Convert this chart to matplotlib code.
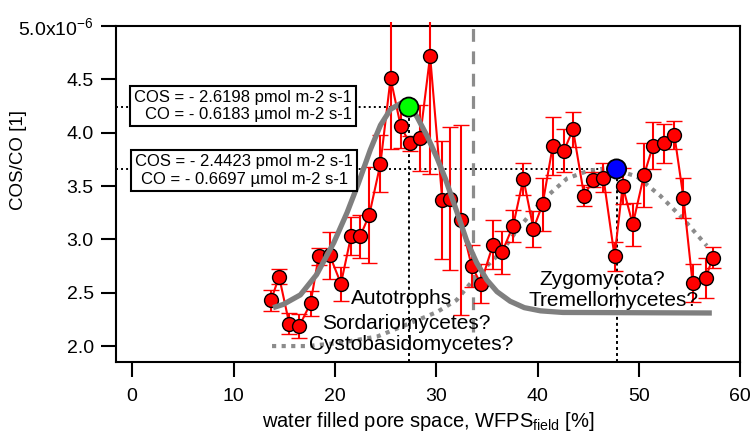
import numpy as np
import matplotlib.pyplot as plt
from matplotlib.ticker import FuncFormatter, MultipleLocator
from matplotlib.transforms import Bbox, TransformedBbox

plt.rcParams['font.family'] = ['Liberation Sans', 'DejaVu Sans']
plt.rcParams['mathtext.fontset'] = 'custom'
plt.rcParams['mathtext.rm'] = 'Liberation Sans'
plt.rcParams['mathtext.it'] = 'Liberation Sans:italic'

# COS/CO ratio (in 1e-6) binned by field WFPS
wfps = [13.7, 14.5, 15.5, 16.5, 17.6, 18.4, 19.5, 20.6, 21.6, 22.5,
        23.4, 24.5, 25.5, 26.5, 27.4, 28.4, 29.4, 30.6, 31.4, 32.4,
        33.5, 34.4, 35.6, 36.5, 37.6, 38.6, 39.6, 40.5, 41.5, 42.6,
        43.5, 44.6, 45.5, 46.5, 47.6, 48.4, 49.4, 50.5, 51.4, 52.5,
        53.5, 54.4, 55.3, 56.6, 57.3]
ratio = [2.43, 2.65, 2.21, 2.19, 2.40, 2.84, 2.85, 2.585, 3.03, 3.03,
         3.23, 3.71, 4.51, 4.06, 3.90, 3.95, 4.72, 3.37, 3.38, 3.18,
         2.75, 2.585, 2.95, 2.88, 3.13, 3.57, 3.10, 3.33, 3.875, 3.83,
         4.03, 3.41, 3.56, 3.58, 2.84, 3.50, 3.14, 3.60, 3.88, 3.90,
         3.98, 3.39, 2.59, 2.64, 2.83]
ratio_err = [0.10, 0.07, 0.10, 0.11, 0.12, 0.08, 0.22, 0.16, 0.18, 0.20,
             0.45, 0.27, 0.66, 0.20, 0.07, 0.31, 1.11, 0.55, 0.67, 0.89,
             0.20, 0.18, 0.23, 0.20, 0.15, 0.15, 0.17, 0.25, 0.27, 0.20,
             0.16, 0.10, 0.07, 0.14, 0.14, 0.17, 0.20, 0.30, 0.22, 0.18,
             0.13, 0.19, 0.18, 0.19, 0.10]

# fitted curves
fit_auto_x = [13.9, 14.9, 16.6, 18.2, 19.9, 21.2, 22.3, 23.5, 24.5, 25.5,
              26.6, 27.4, 28.1, 29.1, 30.1, 30.9, 32.0, 33.0, 34.0, 35.0,
              36.0, 37.3, 38.7, 40.3, 42.5, 57.2]
fit_auto_y = [2.36, 2.39, 2.48, 2.67, 2.97, 3.25, 3.52, 3.84, 4.07, 4.22,
              4.28, 4.24, 4.15, 3.97, 3.76, 3.57, 3.27, 2.99, 2.78, 2.62,
              2.51, 2.42, 2.36, 2.33, 2.315, 2.31]
fit_fungi_x = [13.8, 17.3, 20.5, 24.2, 26.8, 30.1, 32.0, 33.4, 35.0, 36.5,
               38.0, 40.3, 42.9, 44.9, 47.0, 49.8, 52.1, 54.4, 56.7]
fit_fungi_y = [2.00, 2.00, 2.03, 2.09, 2.19, 2.32, 2.43, 2.59, 2.75, 2.89,
               3.09, 3.35, 3.57, 3.64, 3.67, 3.59, 3.41, 3.19, 2.94]

peak_x = [27.3, 47.8]
peak_y = [4.24, 3.66]
peak_colors = ['#00ff00', '#0000ff']
split_x = 33.6

box_texts = ['COS = - 2.6198 pmol m-2 s-1\nCO = - 0.6183 \u00b5mol m-2 s-1',
             'COS = - 2.4423 pmol m-2 s-1\nCO = - 0.6697 \u00b5mol m-2 s-1']

fig = plt.figure(figsize=(7.53, 4.41), dpi=100)
ax = fig.add_axes([0.154, 0.179, 0.829, 0.762])
xmin, xmax, ymin, ymax = -1.6, 60, 1.85, 5.0
ax.set_xlim(xmin, xmax)
ax.set_ylim(ymin, ymax)

# guide lines to the two maxima
for px, py in zip(peak_x, peak_y):
    ax.plot([xmin, px], [py, py], color='black', ls=(0, (1, 1.6)), lw=1.4, zorder=2)
    ax.plot([px, px], [ymin, py], color='black', ls=(0, (1.5, 1.6)), lw=1.4, zorder=2)

ax.plot([split_x, split_x], [2.13, ymax], color='#8c8c8c', ls=(0, (4, 3)), lw=2.3, zorder=2)

ax.plot(fit_fungi_x, fit_fungi_y, color='#8c8c8c', ls=(0, (1, 1.3)), lw=3, zorder=3)

eb = ax.errorbar(wfps, ratio, yerr=ratio_err, color='#ff0000', lw=1.5, capsize=6,
                 capthick=1.5, marker='o', ms=10, mfc='#ff0000', mec='black',
                 mew=1, zorder=4)
clip = TransformedBbox(Bbox([[xmin, ymin], [xmax, 5.04]]), ax.transData)
for art in list(eb[1]) + list(eb[2]):
    art.set_clip_box(clip)

ax.plot(fit_auto_x, fit_auto_y, color='#7f7f7f', lw=3.8, solid_capstyle='butt',
        solid_joinstyle='round', zorder=5)

ax.scatter(peak_x, peak_y, s=190, c=peak_colors, edgecolors='black', linewidths=1.3, zorder=6)

ax.text(10.9, 4.25, box_texts[0], fontsize=12, ha='center', va='center', multialignment='right',
        bbox=dict(boxstyle='square,pad=0.25', fc='white', ec='black', lw=1.5), zorder=7)
ax.text(11.05, 3.645, box_texts[1], fontsize=12, ha='center', va='center', multialignment='center',
        bbox=dict(boxstyle='square,pad=0.25', fc='white', ec='black', lw=1.5), zorder=7)

ax.text(26.55, 2.45, 'Autotrophs', fontsize=15, ha='center', va='center', zorder=7)
ax.text(27.05, 2.21, 'Sordariomycetes?', fontsize=15, ha='center', va='center', zorder=7)
ax.text(27.5, 2.01, 'Cystobasidomycetes?', fontsize=15, ha='center', va='center', zorder=7)
ax.text(46.4, 2.62, 'Zygomycota?', fontsize=15, ha='center', va='center', zorder=7)
ax.text(47.5, 2.43, 'Tremellomycetes?', fontsize=15, ha='center', va='center', zorder=7)

ax.xaxis.set_major_locator(MultipleLocator(10))
ax.yaxis.set_major_locator(MultipleLocator(0.5))
ax.yaxis.set_major_formatter(FuncFormatter(
    lambda v, p: '5.0x10$^{-6}$' if abs(v - 5) < 1e-9 else f'{v:.1f}'))
ax.tick_params(axis='x', direction='out', length=11, width=1.5, labelsize=14, pad=8)
ax.tick_params(axis='y', direction='out', length=11, width=1.5, labelsize=14, pad=5)
for s in ax.spines.values():
    s.set_linewidth(1.5)

ax.set_xlabel('water filled pore space, WFPS$_{\\mathrm{field}}$ [%]', fontsize=14.5, labelpad=3)
ax.set_ylabel('COS/CO [1]', fontsize=13.5)
ax.yaxis.set_label_coords(-0.143, 0.60)

fig.savefig('out.png', dpi=100)
